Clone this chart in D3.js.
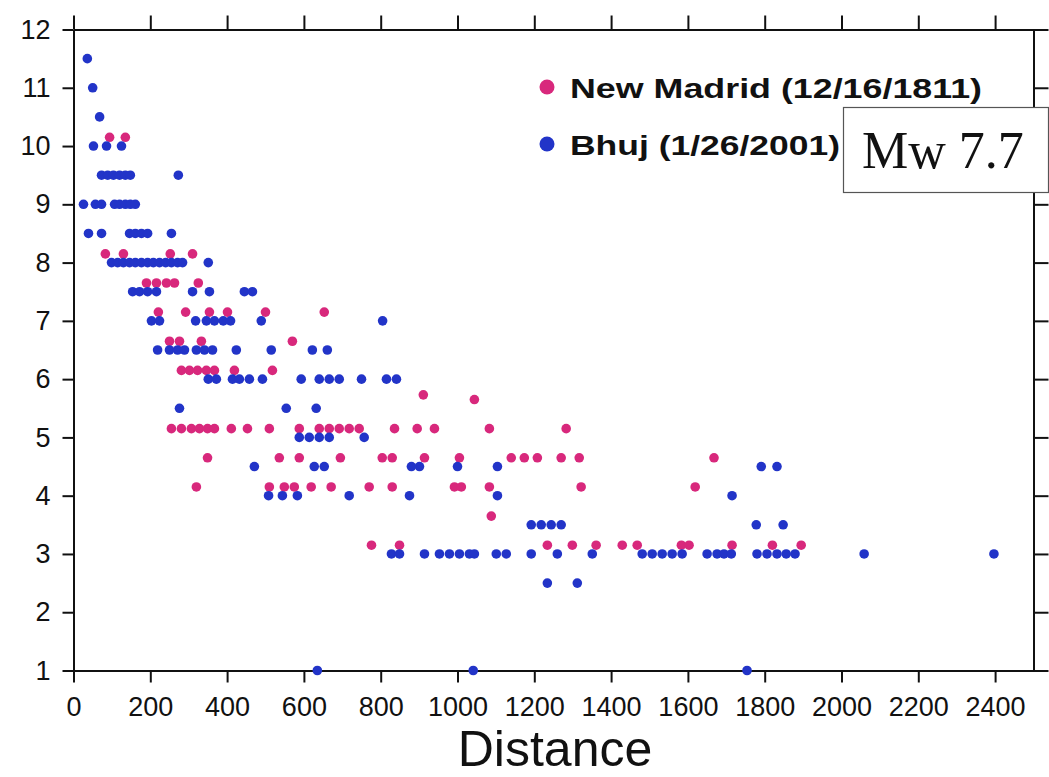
<!DOCTYPE html>
<html>
<head>
<meta charset="utf-8">
<script src="https://d3js.org/d3.v7.min.js"></script>
<style>
  body{margin:0;background:#fff;}
  svg{display:block;}
</style>
</head>
<body>
<div id="chart"></div>
<script>
// intensity vs distance (km)
var newMadrid = [
    [94,10.15],[135,10.15],
    [83,8.15],[130,8.15],[252,8.15],[310,8.15],
    [190,7.65],[216,7.65],[242,7.65],[263,7.65],[325,7.65],
    [221,7.15],[292,7.15],[354,7.15],[401,7.15],[500,7.15],[653,7.15],
    [250,6.65],[276,6.65],[333,6.65],[570,6.65],
    [281,6.15],[302,6.15],[323,6.15],[346,6.15],[367,6.15],[419,6.15],[518,6.15],
    [911,5.73],[1044,5.65],
    [255,5.15],[281,5.15],[307,5.15],[328,5.15],[349,5.15],[367,5.15],[411,5.15],[453,5.15],
    [510,5.15],[588,5.15],[640,5.15],[666,5.15],[692,5.15],[718,5.15],[744,5.15],[836,5.15],
    [895,5.15],[940,5.15],[1083,5.15],[1283,5.15],
    [349,4.65],[536,4.65],[588,4.65],[695,4.65],[804,4.65],[830,4.65],[914,4.65],[1005,4.65],
    [1140,4.65],[1174,4.65],[1208,4.65],[1270,4.65],[1317,4.65],[1668,4.65],
    [320,4.15],[510,4.15],[549,4.15],[575,4.15],[619,4.15],[671,4.15],[770,4.15],[830,4.15],
    [992,4.15],[1010,4.15],[1083,4.15],[1322,4.15],[1619,4.15],
    [1088,3.65],
    [776,3.15],[849,3.15],[1234,3.15],[1299,3.15],[1361,3.15],[1429,3.15],[1468,3.15],
    [1583,3.15],[1603,3.15],[1715,3.15],[1820,3.15],[1895,3.15]
];

var bhuj = [
    [36,11.5],[50,11],[68,10.5],
    [52,10],[86,10],[125,10],
    [73,9.5],[89,9.5],[104,9.5],[120,9.5],[135,9.5],[148,9.5],[273,9.5],
    [26,9],[57,9],[73,9],[107,9],[120,9],[135,9],[148,9],[161,9],
    [39,8.5],[73,8.5],[146,8.5],[161,8.5],[177,8.5],[193,8.5],[255,8.5],
    [99,8],[115,8],[130,8],[146,8],[161,8],[177,8],[193,8],[208,8],[224,8],[240,8],
    [255,8],[271,8],[284,8],[351,8],
    [154,7.5],[172,7.5],[193,7.5],[216,7.5],[310,7.5],[354,7.5],[445,7.5],[466,7.5],
    [203,7],[224,7],[318,7],[346,7],[367,7],[390,7],[409,7],[489,7],[805,7],
    [219,6.5],[250,6.5],[271,6.5],[289,6.5],[320,6.5],[341,6.5],[362,6.5],[424,6.5],
    [515,6.5],[622,6.5],[661,6.5],
    [351,6],[372,6],[414,6],[432,6],[458,6],[492,6],[593,6],[640,6],[666,6],[692,6],
    [750,6],[815,6],[841,6],
    [276,5.5],[554,5.5],[632,5.5],
    [588,5],[614,5],[640,5],[666,5],[757,5],
    [471,4.5],[627,4.5],[653,4.5],[880,4.5],[901,4.5],[1000,4.5],[1104,4.5],[1791,4.5],[1832,4.5],
    [508,4],[544,4],[583,4],[718,4],[875,4],[1104,4],[1715,4],
    [1192,3.5],[1218,3.5],[1244,3.5],[1270,3.5],[1778,3.5],[1848,3.5],
    [828,3],[849,3],[914,3],[953,3],[979,3],[1005,3],[1031,3],[1044,3],[1101,3],[1127,3],
    [1192,3],[1260,3],[1351,3],[1481,3],[1507,3],[1533,3],[1559,3],[1585,3],[1650,3],
    [1676,3],[1694,3],[1713,3],[1780,3],[1806,3],[1832,3],[1856,3],[1879,3],[2059,3],[2397,3],
    [1234,2.5],[1312,2.5],
    [635,1],[1041,1],[1754,1]
];

var seriesNames = ["New Madrid (12/16/1811)","Bhuj (1/26/2001)"];
var seriesColors = ["#d8287c","#2234c8"];
var xTicks = d3.range(0,2401,200);
var yTicks = d3.range(1,13,1);
var xTitle = "Distance";
var boxLabel = "Mw 7.7";

(function(){
    var width = 1049, height = 777;
    var plot = {left:73.5, right:1033.5, top:29.5, bottom:670.5};
    var font = "'Liberation Sans', Arial, Helvetica, sans-serif";

    var svg = d3.select("#chart").append("svg")
        .attr("width",width)
        .attr("height",height);

    svg.append("rect").attr("width",width).attr("height",height).attr("fill","#fff");

    var x = d3.scaleLinear().domain([0,2500]).range([plot.left,plot.right]);
    var y = d3.scaleLinear().domain([1,12]).range([plot.bottom,plot.top]);

    function styleAxis(g){
        g.attr("font-size",null).attr("font-family",null);
        g.select(".domain").attr("stroke","#111").attr("stroke-width",2);
        g.selectAll(".tick line").attr("stroke","#111").attr("stroke-width",2);
        g.selectAll(".tick text")
            .attr("fill","#111")
            .attr("font-family",font)
            .attr("font-size","27px");
    }

    // bottom axis with labels
    var gx = svg.append("g")
        .attr("transform","translate(0,"+plot.bottom+")")
        .call(d3.axisBottom(x).tickValues(xTicks).tickSize(12).tickSizeOuter(0).tickFormat(d3.format("d")));
    styleAxis(gx);
    gx.selectAll(".tick text").attr("y",45).attr("dy",null);

    // top axis, ticks only
    var gt = svg.append("g")
        .attr("transform","translate(0,"+plot.top+")")
        .call(d3.axisTop(x).tickValues(xTicks).tickSize(14).tickSizeOuter(0).tickFormat(""));
    styleAxis(gt);

    // left axis with labels
    var gy = svg.append("g")
        .attr("transform","translate("+plot.left+",0)")
        .call(d3.axisLeft(y).tickValues(yTicks).tickSize(11).tickPadding(12).tickSizeOuter(0).tickFormat(d3.format("d")));
    styleAxis(gy);

    // right axis, ticks only
    var gr = svg.append("g")
        .attr("transform","translate("+plot.right+",0)")
        .call(d3.axisRight(y).tickValues(yTicks).tickSize(15).tickSizeOuter(0).tickFormat(""));
    styleAxis(gr);

    // points
    svg.append("g").selectAll("circle")
        .data(newMadrid)
        .enter().append("circle")
        .attr("cx",function(d){return x(d[0]);})
        .attr("cy",function(d){return y(d[1]);})
        .attr("r",4.8)
        .attr("fill",seriesColors[0]);

    svg.append("g").selectAll("circle")
        .data(bhuj)
        .enter().append("circle")
        .attr("cx",function(d){return x(d[0]);})
        .attr("cy",function(d){return y(d[1]);})
        .attr("r",4.8)
        .attr("fill",seriesColors[1]);

    // legend
    var legendW = [412,270];
    var legend = svg.append("g").selectAll("g")
        .data(seriesNames)
        .enter().append("g")
        .attr("transform",function(d,i){return "translate(547,"+(87+i*57)+")";});
    legend.append("circle")
        .attr("r",7.5)
        .attr("fill",function(d,i){return seriesColors[i];});
    legend.append("text")
        .text(function(d){return d;})
        .attr("x",23)
        .attr("y",11)
        .attr("textLength",function(d,i){return legendW[i];})
        .attr("lengthAdjust","spacingAndGlyphs")
        .attr("font-family",font)
        .attr("font-weight","bold")
        .attr("font-size","27px")
        .attr("fill","#111");

    // magnitude box
    svg.append("rect")
        .attr("x",843.5).attr("y",107.5)
        .attr("width",205).attr("height",85)
        .attr("fill","#fff")
        .attr("stroke","#555")
        .attr("stroke-width",1.2);
    svg.append("text")
        .text(boxLabel)
        .attr("x",862)
        .attr("y",168)
        .attr("font-family","'Liberation Serif','Times New Roman',serif")
        .attr("font-size","52px")
        .attr("fill","#111");

    // x title
    svg.append("text")
        .text(xTitle)
        .attr("x",555)
        .attr("y",766)
        .attr("text-anchor","middle")
        .attr("font-family",font)
        .attr("font-size","50px")
        .attr("fill","#111");
})();
</script>
</body>
</html>
